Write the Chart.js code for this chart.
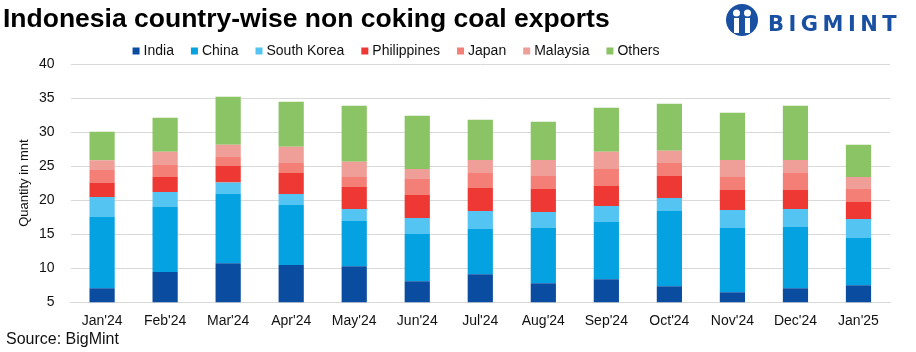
<!DOCTYPE html>
<html>
<head>
<meta charset="utf-8">
<script src="https://cdn.jsdelivr.net/npm/chart.js@4.4.1/dist/chart.umd.min.js"></script>
<style>
  html, body { margin: 0; padding: 0; background: #fff; }
  #wrap { width: 916px; height: 352px; }
</style>
</head>
<body>
<div id="wrap"><canvas id="coalChart" width="916" height="352"></canvas></div>
<script>
// months on the x axis
const months = ["Jan'24", "Feb'24", "Mar'24", "Apr'24", "May'24", "Jun'24", "Jul'24",
    "Aug'24", "Sep'24", "Oct'24", "Nov'24", "Dec'24", "Jan'25"];

// exports in mnt
const india       = [7.06, 9.42, 10.74, 10.45, 10.30, 8.09, 9.12, 7.80, 8.39, 7.36, 6.47, 7.06, 7.50];
const china       = [10.46, 9.57, 10.16, 8.83, 6.63, 6.92, 6.63, 8.10, 8.39, 11.04, 9.43, 8.99, 6.93];
const southKorea  = [2.94, 2.21, 1.67, 1.62, 1.76, 2.36, 2.65, 2.35, 2.36, 1.91, 2.65, 2.64, 2.79];
const philippines = [2.06, 2.21, 2.46, 3.09, 3.24, 3.39, 3.39, 3.39, 2.94, 3.24, 2.94, 2.80, 2.51];
const japan       = [1.92, 1.76, 1.32, 1.48, 1.48, 2.35, 2.21, 1.91, 2.50, 1.92, 1.92, 2.51, 1.91];
const malaysia    = [1.42, 1.92, 1.77, 2.36, 2.21, 1.47, 1.91, 2.36, 2.51, 1.77, 2.50, 1.91, 1.77];
const others      = [4.17, 5.01, 7.07, 6.62, 8.24, 7.81, 5.89, 5.60, 6.48, 6.92, 6.92, 7.95, 4.71];

const yTicks = [5, 10, 15, 20, 25, 30, 35, 40];

const series = [
    { label: 'India', data: india, color: '#0A4DA0' },
    { label: 'China', data: china, color: '#04A2E0' },
    { label: 'South Korea', data: southKorea, color: '#54C4F2' },
    { label: 'Philippines', data: philippines, color: '#EE3833' },
    { label: 'Japan', data: japan, color: '#F47F77' },
    { label: 'Malaysia', data: malaysia, color: '#F09E98' },
    { label: 'Others', data: others, color: '#8BC465' }
];

const sans = "'Liberation Sans', Arial, sans-serif";

// title, legend, axis title, source line and logo
const extras = {
    id: 'extras',
    afterDraw(chart) {
        const ctx = chart.ctx;
        const area = chart.chartArea;
        ctx.save();

        // title
        ctx.fillStyle = '#000';
        ctx.font = "bold 26.5px " + sans;
        ctx.textAlign = 'left';
        ctx.textBaseline = 'alphabetic';
        ctx.fillText('Indonesia country-wise non coking coal exports', 3, 27);

        // legend
        ctx.font = "14px " + sans;
        ctx.textBaseline = 'middle';
        const items = chart.data.datasets.map(d => ({
            label: d.label, color: d.backgroundColor,
            w: 7 + 4 + ctx.measureText(d.label).width
        }));
        const gap = 17;
        const total = items.reduce((s, it) => s + it.w, 0) + gap * (items.length - 1);
        let lx = 396 - total / 2;
        const ly = 51;
        for (const it of items) {
            ctx.fillStyle = it.color;
            ctx.fillRect(lx, ly - 3.5, 7, 7);
            ctx.fillStyle = '#111';
            ctx.fillText(it.label, lx + 11, ly);
            lx += it.w + gap;
        }

        // y axis title
        ctx.save();
        ctx.translate(24, (area.top + area.bottom) / 2);
        ctx.rotate(-Math.PI / 2);
        ctx.textAlign = 'center';
        ctx.textBaseline = 'middle';
        ctx.font = "13px " + sans;
        ctx.fillStyle = '#111';
        ctx.fillText('Quantity in mnt', 0, 0);
        ctx.restore();

        // source
        ctx.fillStyle = '#111';
        ctx.font = "16px " + sans;
        ctx.textAlign = 'left';
        ctx.textBaseline = 'alphabetic';
        ctx.fillText('Source: BigMint', 6, 344);

        // logo icon
        const cx = 742, cy = 20, r = 16;
        ctx.fillStyle = '#1A50A2';
        ctx.beginPath();
        ctx.arc(cx, cy, r, 0, Math.PI * 2);
        ctx.fill();
        ctx.fillStyle = '#fff';
        ctx.beginPath(); ctx.arc(cx - 5.5, cy - 7, 3.5, 0, Math.PI * 2); ctx.fill();
        ctx.beginPath(); ctx.arc(cx + 5.5, cy - 7, 3.5, 0, Math.PI * 2); ctx.fill();
        ctx.fillRect(cx - 8, cy - 2, 5, 15);
        ctx.fillRect(cx + 3, cy - 2, 5, 15);
        ctx.fillStyle = '#1A50A2';
        ctx.fillRect(cx - 1.5, cy + 3, 3, 12);

        // logo text
        ctx.fillStyle = '#1A50A2';
        ctx.font = "bold 21px 'DejaVu Sans', sans-serif";
        ctx.textBaseline = 'alphabetic';
        let x = 768;
        for (const ch of 'BIGMINT') {
            ctx.fillText(ch, x, 31);
            x += ctx.measureText(ch).width + 4.5;
        }
        ctx.restore();
    }
};

const ctx = document.getElementById('coalChart').getContext('2d');
const coalChart = new Chart(ctx, {
    type: 'bar',
    data: {
        labels: months,
        datasets: series.map(s => ({
            label: s.label,
            data: s.data,
            backgroundColor: s.color,
            borderWidth: 0,
            barPercentage: 0.4,
            categoryPercentage: 1.0
        }))
    },
    options: {
        responsive: false,
        animation: false,
        layout: {
            padding: { top: 64, left: 23, right: 26, bottom: 19 }
        },
        plugins: {
            legend: { display: false },
            tooltip: { enabled: false }
        },
        scales: {
            x: {
                stacked: true,
                grid: { display: false },
                border: { color: '#d9d9d9' },
                ticks: {
                    color: '#111',
                    font: { family: sans, size: 14 },
                    maxRotation: 0,
                    padding: 3
                }
            },
            y: {
                stacked: true,
                min: yTicks[0],
                max: yTicks[yTicks.length - 1],
                afterBuildTicks: axis => {
                    axis.ticks = yTicks.map(v => ({ value: v }));
                },
                grid: { color: '#d9d9d9', drawTicks: false },
                border: { display: false },
                ticks: {
                    color: '#111',
                    padding: 16,
                    font: { family: sans, size: 14 }
                }
            }
        }
    },
    plugins: [extras]
});
</script>
</body>
</html>
